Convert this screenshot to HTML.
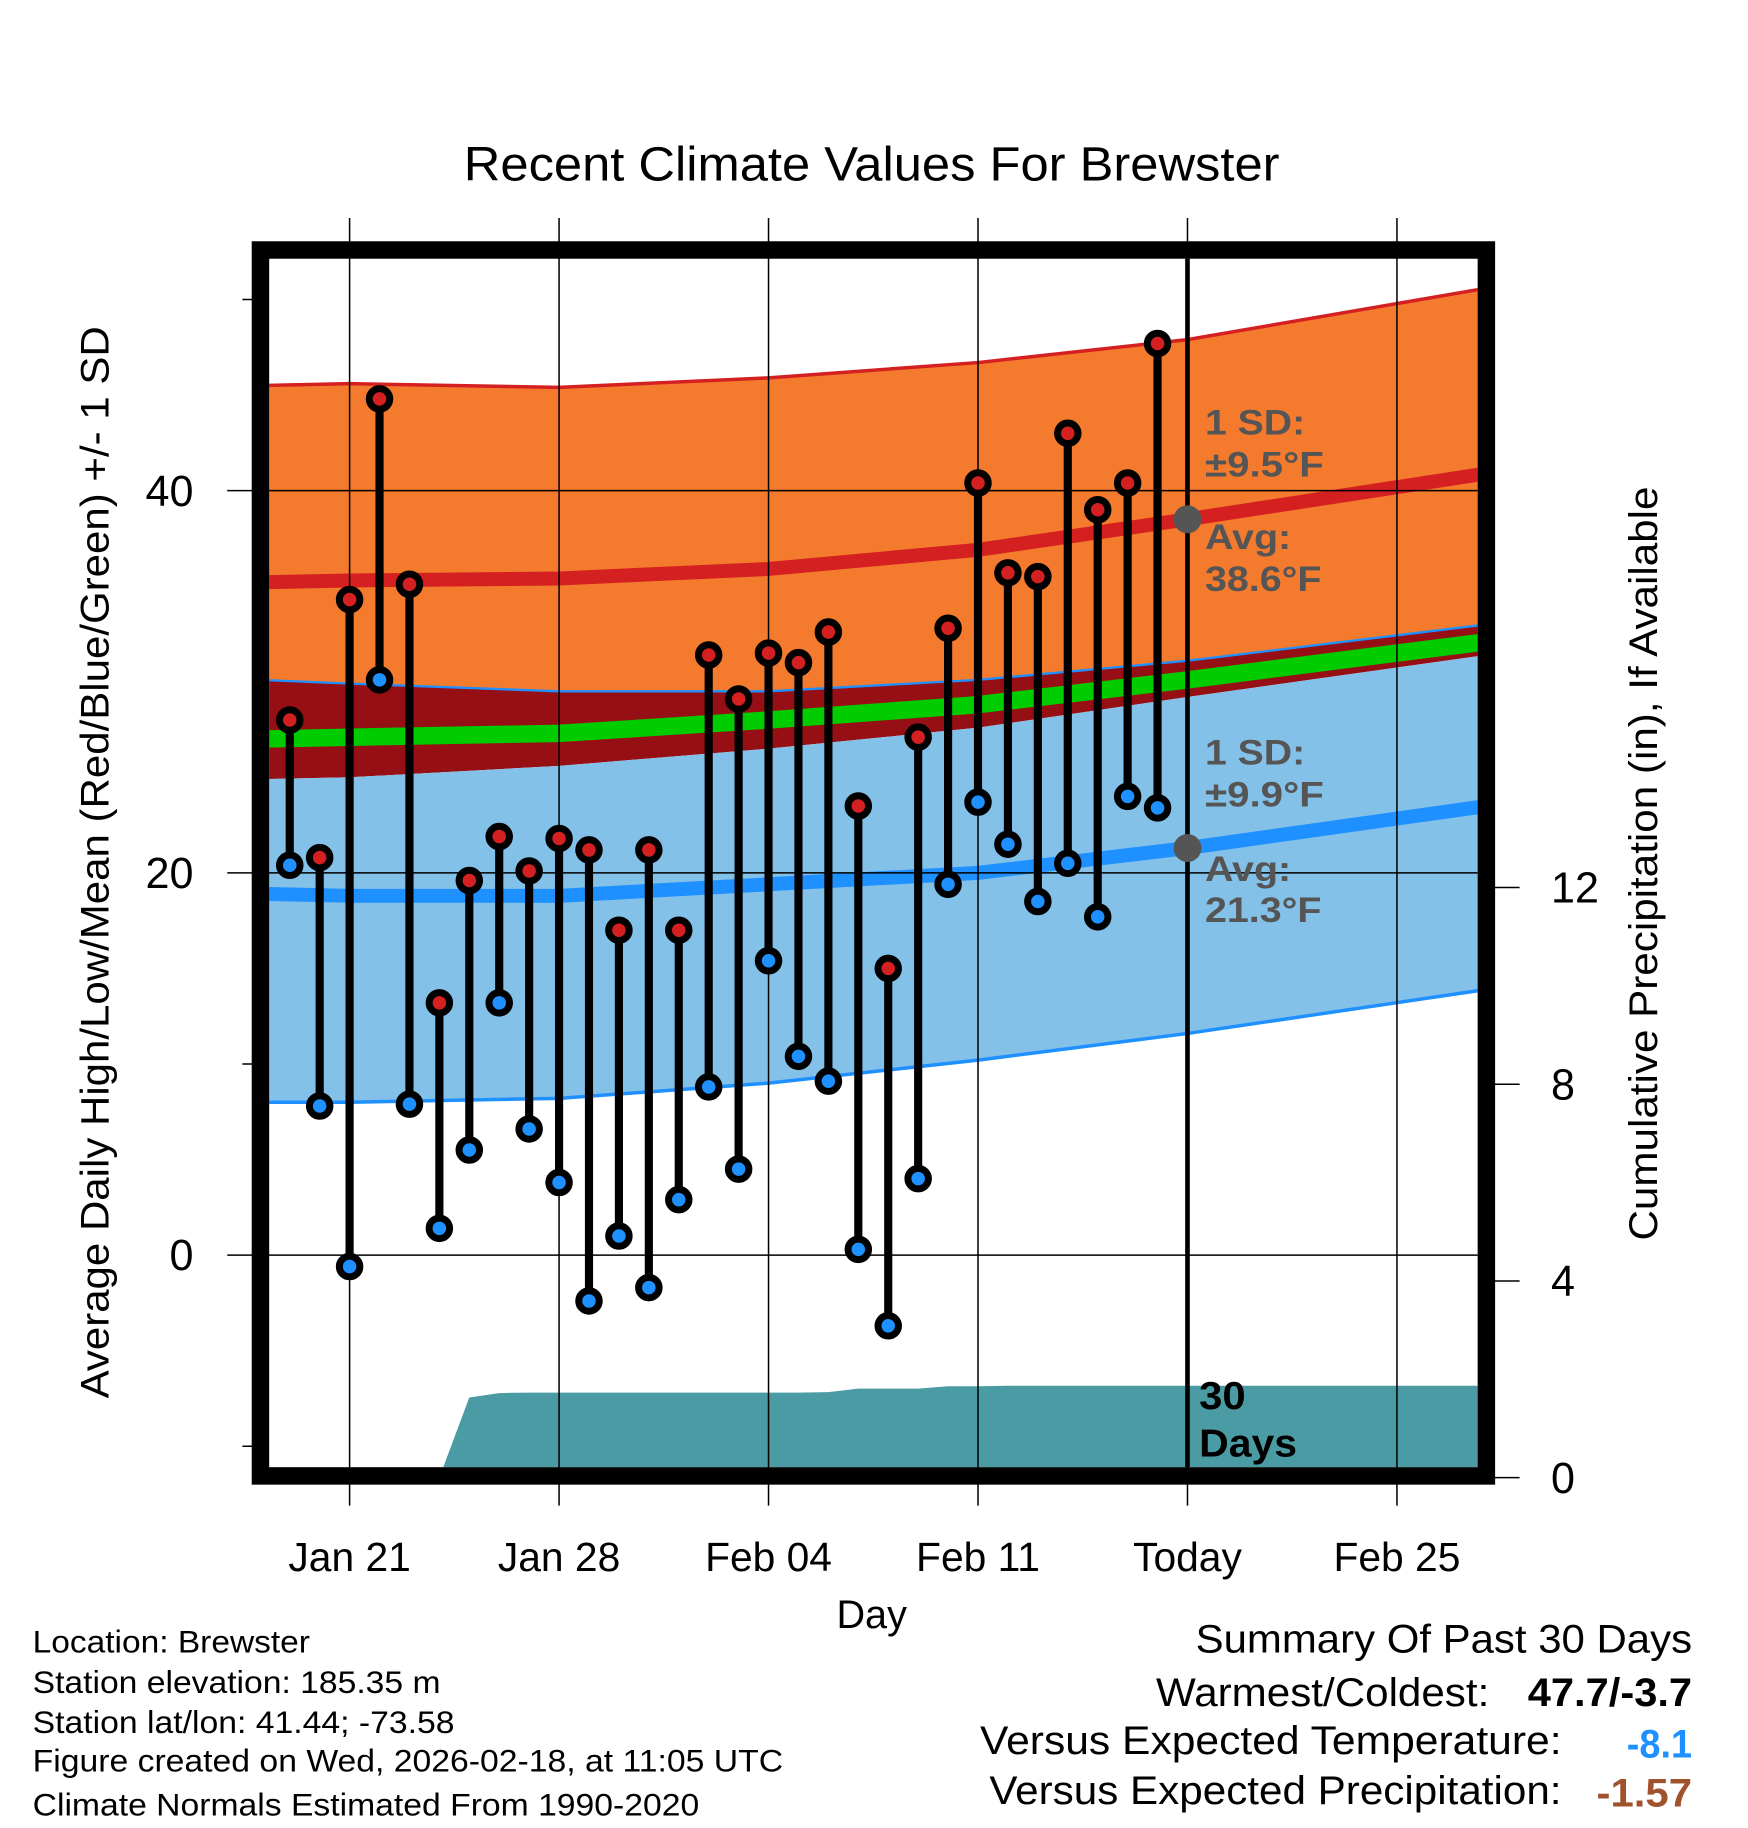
<!DOCTYPE html>
<html><head><meta charset="utf-8">
<style>html,body{margin:0;padding:0;background:#fff}svg{display:block;font-family:"Liberation Sans",sans-serif}</style>
</head><body>
<svg id="chart" width="1748" height="1828" viewBox="0 0 1500 1568.6" xmlns="http://www.w3.org/2000/svg">
<defs><clipPath id="plotclip"><rect x="231" y="222" width="1037" height="1037"/></clipPath></defs>
<text x="748" y="155" font-size="41" text-anchor="middle" textLength="700" lengthAdjust="spacingAndGlyphs">Recent Climate Values For Brewster</text>
<g id="gridLayer"></g>
<g id="bandLayer" clip-path="url(#plotclip)"></g>
<g id="precipLayer" clip-path="url(#plotclip)"></g>
<g id="gridOver"></g>
<g id="annoLayer"></g>
<g id="pointLayer"></g>
<rect x="223.5" y="214.5" width="1052" height="1052" fill="none" stroke="#000" stroke-width="15"/>
<g id="axisLayer"></g>
<text transform="translate(93,740) rotate(-90)" font-size="34" text-anchor="middle" textLength="920" lengthAdjust="spacingAndGlyphs">Average Daily High/Low/Mean (Red/Blue/Green) +/- 1 SD</text>
<text transform="translate(1422,741) rotate(-90)" font-size="34" text-anchor="middle" textLength="647" lengthAdjust="spacingAndGlyphs">Cumulative Precipitation (in), If Available</text>
<text x="748" y="1397" font-size="34" text-anchor="middle">Day</text>
<g font-size="27">
<text x="28" y="1418" textLength="238" lengthAdjust="spacingAndGlyphs">Location: Brewster</text>
<text x="28" y="1453" textLength="350" lengthAdjust="spacingAndGlyphs">Station elevation: 185.35 m</text>
<text x="28" y="1487" textLength="362" lengthAdjust="spacingAndGlyphs">Station lat/lon: 41.44; -73.58</text>
<text x="28" y="1520" textLength="644" lengthAdjust="spacingAndGlyphs">Figure created on Wed, 2026-02-18, at 11:05 UTC</text>
<text x="28" y="1558" textLength="572" lengthAdjust="spacingAndGlyphs">Climate Normals Estimated From 1990-2020</text>
</g>
<g font-size="34">
<text x="1026" y="1418" textLength="426" lengthAdjust="spacingAndGlyphs">Summary Of Past 30 Days</text>
<text x="992" y="1464" textLength="286" lengthAdjust="spacingAndGlyphs">Warmest/Coldest:</text>
<text x="1311" y="1464" font-weight="bold" textLength="141" lengthAdjust="spacingAndGlyphs">47.7/-3.7</text>
<text x="841" y="1505" textLength="499" lengthAdjust="spacingAndGlyphs">Versus Expected Temperature:</text>
<text x="1396" y="1508" font-weight="bold" fill="#1e90ff" textLength="56" lengthAdjust="spacingAndGlyphs">-8.1</text>
<text x="849" y="1548" textLength="491" lengthAdjust="spacingAndGlyphs">Versus Expected Precipitation:</text>
<text x="1370" y="1550" font-weight="bold" fill="#a0522d" textLength="82" lengthAdjust="spacingAndGlyphs">-1.57</text>
</g>
</svg>
<script>
// days offset from Jan 21
const pointDays = [-2,-1,0,1,2,3,4,5,6,7,8,9,10,11,12,13,14,15,16,17,18,19,20,21,22,23,24,25,26,27];
const highs = [28.0,20.8,34.3,44.8,35.1,13.2,19.6,21.9,20.1,21.8,21.2,17.0,21.2,17.0,31.4,29.1,31.5,31.0,32.6,23.5,15.0,27.1,32.8,40.4,35.7,35.5,43.0,39.0,40.4,47.7];
const lows = [20.4,7.8,-0.6,30.1,7.9,1.4,5.5,13.2,6.6,3.8,-2.4,1.0,-1.7,2.9,8.8,4.5,15.4,10.4,9.1,0.3,-3.7,4.0,19.4,23.7,21.5,18.5,20.5,17.7,24.0,23.4];
const normDays = [-3,0,7,14,21,28,38];
const highPlusSD = [45.5,45.6,45.4,45.9,46.7,47.9,50.6];
const avgHigh = [35.2,35.3,35.4,35.9,36.9,38.5,40.9];
const highMinusSD = [30.1,29.9,29.5,29.5,30.1,31.1,33.0];
const avgMean = [27.0,27.1,27.3,28.0,28.8,30.1,32.1];
const lowPlusSD = [24.9,25.0,25.6,26.5,27.6,29.2,31.4];
const avgLow = [18.9,18.8,18.8,19.4,20.0,21.3,23.5];
const lowMinusSD = [8.0,8.0,8.2,9.0,10.2,11.6,13.9];
const precipDays = [-3,-2,-1,0,1,2,3,4,5,6,7,8,9,10,11,12,13,14,15,16,17,18,19,20,21,22,23,24,25,26,27,28,38];
const precipCum = [0,0,0,0,0,0,0,1.63,1.72,1.73,1.73,1.73,1.73,1.73,1.73,1.73,1.73,1.73,1.73,1.74,1.81,1.81,1.81,1.86,1.86,1.87,1.87,1.87,1.87,1.87,1.87,1.87,1.87];
const xTickDays = [0,7,14,21,28,35];
const xTickLabels = ["Jan 21","Jan 28","Feb 04","Feb 11","Today","Feb 25"];
const yTicks = [40,20,0];
const yMinor = [50,10,-10];
const y2Ticks = [0,4,8,12];
const todayDay = 28;

const NS="http://www.w3.org/2000/svg";
const X = d => 300 + d*(1019-300)/28;
const Y = t => 1077 - t*16.4;
const Y2 = p => 1268 - p*42.2;
function mk(tag, attrs, parent){const e=document.createElementNS(NS,tag);for(const k in attrs)e.setAttribute(k,attrs[k]);parent.appendChild(e);return e;}
const grid=document.getElementById('gridLayer'),bands=document.getElementById('bandLayer'),pre=document.getElementById('precipLayer'),gov=document.getElementById('gridOver'),anno=document.getElementById('annoLayer'),pts=document.getElementById('pointLayer'),ax=document.getElementById('axisLayer');
function linePts(arr){return normDays.map((d,i)=>X(d).toFixed(1)+','+Y(arr[i]).toFixed(1));}
function band(top,bot,fill,name){const p=linePts(top).concat(linePts(bot).reverse());const e=mk('polygon',{points:p.join(' '),fill:fill},bands);

}
function line(arr,color,w,name){const e=mk('polyline',{points:linePts(arr).join(' '),fill:'none',stroke:color,'stroke-width':w},bands);

}
band(highPlusSD,highMinusSD,'#f47a2e','high-sd-band');
band(highMinusSD,lowPlusSD,'#960f14','overlap-band');
band(lowPlusSD,lowMinusSD,'#84c1e8','low-sd-band');
line(highPlusSD,'#d42020',3,'high-plus-sd-line');
line(highMinusSD,'#1e90ff',2,'high-minus-sd-line');
line(lowMinusSD,'#1e90ff',3,'low-minus-sd-line');
line(avgMean,'#00cc00',15,'avg-mean-line');
line(avgHigh,'#d42020',12,'avg-high-line');
line(avgLow,'#1e90ff',12,'avg-low-line');
{let p=precipDays.map((d,i)=>X(d).toFixed(1)+','+Y2(precipCum[i]).toFixed(1));
p.push(X(38).toFixed(1)+',1300');p.push(X(-3).toFixed(1)+',1300');
const e=mk('polygon',{points:p.join(' '),fill:'#4a9ba3'},pre);

}
xTickDays.forEach((d,i)=>{const e=mk('line',{x1:X(d),x2:X(d),y1:187,y2:1292,stroke:'#000','stroke-width':1.3},gov);


const t=mk('text',{x:X(d),y:1348,'font-size':35,'text-anchor':'middle'},ax);t.textContent=xTickLabels[i];

});
yTicks.forEach(v=>{const e=mk('line',{x1:195,x2:1268,y1:Y(v),y2:Y(v),stroke:'#000','stroke-width':1.3},gov);


const t=mk('text',{x:166,y:Y(v)+13,'font-size':37,'text-anchor':'end'},ax);t.textContent=v;

});
yMinor.forEach(v=>{const e=mk('line',{x1:208,x2:222,y1:Y(v),y2:Y(v),stroke:'#000','stroke-width':1.3},ax);

});
y2Ticks.forEach(v=>{const e=mk('line',{x1:1280,x2:1304,y1:Y2(v),y2:Y2(v),stroke:'#000','stroke-width':1.3},ax);


const t=mk('text',{x:1331,y:Y2(v)+13,'font-size':37},ax);t.textContent=v;

});
{const e=mk('line',{x1:X(todayDay),x2:X(todayDay),y1:222,y2:1259,stroke:'#000','stroke-width':4},anno);


const hi=avgHigh[5],lo=avgLow[5];
const c1=mk('circle',{cx:X(todayDay),cy:Y(hi),r:12,fill:'#555'},anno);


const c2=mk('circle',{cx:X(todayDay),cy:Y(lo),r:12,fill:'#555'},anno);

}
const labels=[["1 SD:",373,86],["±9.5°F",409,102],["Avg:",471,74],["38.6°F",507,100],["1 SD:",656,86],["±9.9°F",692,102],["Avg:",756,74],["21.3°F",791,100]];
labels.forEach(l=>{const t=mk('text',{x:1034,y:l[1],'font-size':30,'font-weight':'bold',fill:'#555',textLength:l[2],lengthAdjust:'spacingAndGlyphs'},anno);t.textContent=l[0];

});
[["30",1209,40],["Days",1250,84]].forEach(l=>{const t=mk('text',{x:1029,y:l[1],'font-size':33,'font-weight':'bold',textLength:l[2],lengthAdjust:'spacingAndGlyphs'},anno);t.textContent=l[0];

});
pointDays.forEach((d,i)=>{const x=X(d);
const s=mk('line',{x1:x,x2:x,y1:Y(highs[i]),y2:Y(lows[i]),stroke:'#000','stroke-width':7},pts);


[[highs[i],'#d42020','high-point'],[lows[i],'#1e90ff','low-point']].forEach(p=>{
const c=mk('circle',{cx:x,cy:Y(p[0]),r:8.8,fill:p[1],stroke:'#000','stroke-width':6},pts);

});});
</script>
</body></html>
